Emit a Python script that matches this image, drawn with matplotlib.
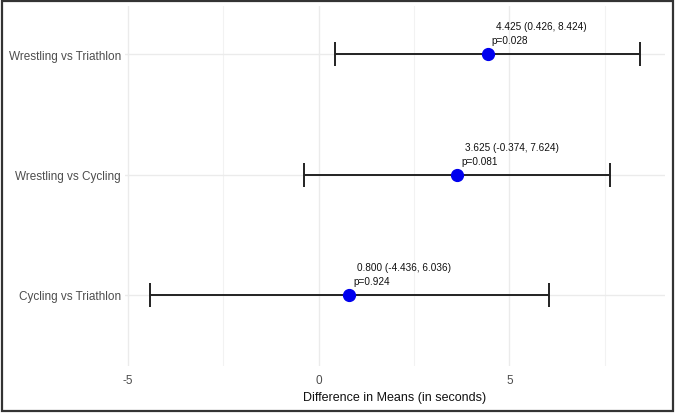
import numpy as np
import matplotlib
matplotlib.use("Agg")
import matplotlib.pyplot as plt
from matplotlib.patches import Rectangle

# Pairwise comparisons (top to bottom as shown)
comparisons = ["Wrestling vs Triathlon", "Wrestling vs Cycling", "Cycling vs Triathlon"]
estimates = [4.425, 3.625, 0.800]
lower = [0.426, -0.374, -4.436]
upper = [8.424, 7.624, 6.036]
p_values = [0.028, 0.081, 0.924]

plt.rcParams['font.family'] = ['Liberation Sans', 'DejaVu Sans']

fig = plt.figure(figsize=(6.77, 4.14), dpi=100)
ax = fig.add_axes([0.1846, 0.1135, 0.9817 - 0.1846, 0.983 - 0.1135])

ypos = np.arange(len(comparisons))[::-1] + 1
est = np.array(estimates)
lo = np.array(lower)
hi = np.array(upper)

# error bars with caps
ax.hlines(ypos, lo, hi, color='#222222', lw=1.4, zorder=3)
for y, a, b in zip(ypos, lo, hi):
    ax.vlines([a, b], y - 0.1, y + 0.1, color='#222222', lw=1.4, zorder=3)
ax.plot(est, ypos, 'o', color='#0000ee', markersize=8.5, zorder=4)

for y, e, a, b, p in zip(ypos, est, lo, hi, p_values):
    ax.annotate(f"{e:.3f} ({a:.3f}, {b:.3f})", (e, y), xytext=(8, 28),
                textcoords='offset pixels', fontsize=7.2, color='#111111',
                ha='left', va='center')
    ax.annotate(f"p={p:.3f}", (e, y), xytext=(4, 14),
                textcoords='offset pixels', fontsize=7.2, color='#111111',
                ha='left', va='center')

rng = hi.max() - lo.min()
ax.set_xlim(lo.min() - 0.05 * rng, hi.max() + 0.05 * rng)
ax.set_ylim(1 - 0.59, len(comparisons) + 0.4)

ax.set_xticks([-5, 0, 5])
ax.set_xticklabels(['-5', '0', '5'])
ax.set_xticks([-2.5, 2.5, 7.5], minor=True)
ax.set_yticks(ypos)
ax.set_yticklabels(comparisons)

ax.grid(True, which='major', color='#ebebeb', lw=1.0)
ax.grid(True, which='minor', axis='x', color='#f2f2f2', lw=0.8)
ax.set_axisbelow(True)
for s in ax.spines.values():
    s.set_visible(False)
ax.tick_params(axis='both', which='both', length=0, labelsize=8.5, labelcolor='#4d4d4d')
ax.tick_params(axis='x', pad=6)
ax.tick_params(axis='y', pad=3)
ax.set_xlabel('Difference in Means (in seconds)', fontsize=9, color='#111111', labelpad=3)

# frame around the whole picture
fig.patches.append(Rectangle((1.5 / 677, 2 / 414), 671 / 677, 410 / 414,
                             transform=fig.transFigure, fill=False,
                             edgecolor='#333333', lw=1.6))

fig.savefig('out.png', dpi=100)
